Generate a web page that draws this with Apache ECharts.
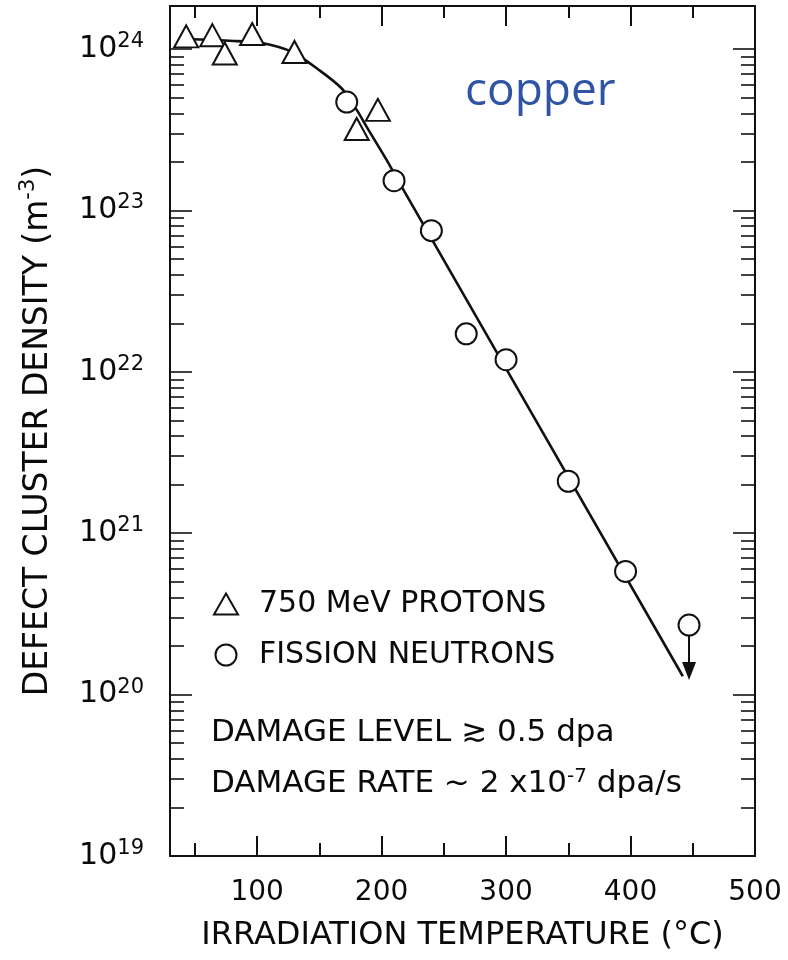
<!DOCTYPE html>
<html>
<head>
<meta charset="utf-8">
<script src="https://cdn.jsdelivr.net/npm/echarts@6/dist/echarts.min.js"></script>
<style>
html,body{margin:0;padding:0;background:#fff;}
#c{width:788px;height:960px;}
</style>
</head>
<body>
<div id="c"></div>
<script>
// ---- data ----
const protonTemp = [43, 64, 74, 96, 130, 180, 197];
const protonDensity = [1.20e24, 1.22e24, 9.4e23, 1.24e24, 9.6e23, 3.2e23, 4.2e23];
const neutronTemp = [172, 210, 240, 268, 300, 350, 396, 447];
const neutronDensity = [4.7e23, 1.53e23, 7.5e22, 1.72e22, 1.19e22, 2.1e21, 5.8e20, 2.7e20];
const fitTemp = [48, 84, 104, 128, 150, 168, 180, 188, 204, 214, 442];
const fitDensity = [1.15e24, 1.12e24, 1.09e24, 9.6e23, 7.4e23, 5.7e23, 4.2e23, 3.3e23, 2.06e23, 1.50e23, 1.30e20];
const limitTemp = 447;
const limitFrom = 2.35e20;
const limitTo = 1.40e20;

// ---- axes / ticks ----
const xMin = 30, xMax = 500;
const xMajorTicks = [100, 200, 300, 400];
const xMinorTicks = [50, 150, 250, 350, 450];
const xTickLabels = [100, 200, 300, 400, 500];
const yMin = 1e19, yMax = 1.85e24;
const yExponents = [19, 20, 21, 22, 23, 24];
const yMinorMultipliers = [2, 3, 4, 5, 6, 7, 8, 9];

const yMajorValues = yExponents.map(e => Math.pow(10, e));
const yMinorValues = [];
yExponents.forEach(e => yMinorMultipliers.forEach(m => {
  const v = m * Math.pow(10, e);
  if (v < yMax) yMinorValues.push(v);
}));

const AX = '#111';
const FONT = 'DejaVu Sans';
const TXT = '#0a0a0a';

const zip = (a, b) => a.map((v, i) => [v, b[i]]);

function xAx(pos, ticks, len, showLine, extra) {
  return Object.assign({
    type: 'value', position: pos, min: xMin, max: xMax,
    axisLine: {show: showLine, onZero: false, lineStyle: {color: AX, width: 2}},
    axisTick: {show: true, inside: true, length: len, customValues: ticks, lineStyle: {color: AX, width: 2}},
    axisLabel: {show: false},
    splitLine: {show: false}
  }, extra || {});
}
function yAx(pos, ticks, len, showLine, extra) {
  return Object.assign({
    type: 'log', logBase: 10, position: pos, min: yMin, max: yMax,
    axisLine: {show: showLine, onZero: false, lineStyle: {color: AX, width: 2}},
    axisTick: {show: true, inside: true, length: len, customValues: ticks, lineStyle: {color: AX, width: 1.6}},
    axisLabel: {show: false},
    splitLine: {show: false},
    minorTick: {show: false}
  }, extra || {});
}

const chart = echarts.init(document.getElementById('c'), null, {renderer: 'canvas'});
chart.setOption({
  animation: false,
  backgroundColor: '#fff',
  grid: {left: 170, right: 33, top: 6, bottom: 104, containLabel: false, outerBoundsMode: 'none'},
  xAxis: [
    xAx('bottom', xMajorTicks, 20, true, {
      axisLabel: {show: true, customValues: xTickLabels, margin: 23, fontFamily: FONT, fontSize: 28, color: TXT},
      name: 'IRRADIATION TEMPERATURE (°C)', nameLocation: 'middle', nameGap: 64,
      nameTextStyle: {fontFamily: FONT, fontSize: 32, color: TXT}
    }),
    xAx('bottom', xMinorTicks, 13, false),
    xAx('top', xMajorTicks, 20, true),
    xAx('top', xMinorTicks, 12, false)
  ],
  yAxis: [
    yAx('left', yMajorValues, 22, true, {
      axisLabel: {
        show: true, customValues: yMajorValues, margin: 26,
        formatter: v => '{b|10}{s|' + Math.round(Math.log10(v)) + '}',
        rich: {
          b: {fontFamily: FONT, fontSize: 30, color: TXT, lineHeight: 36},
          s: {fontFamily: FONT, fontSize: 21, color: TXT, lineHeight: 21, verticalAlign: 'top'}
        }
      },
      name: '{n|DEFECT CLUSTER DENSITY (m}{s|-3}{n|)}',
      nameLocation: 'middle', nameRotate: 90, nameGap: 112,
      nameTextStyle: {
        rich: {
          n: {fontFamily: FONT, fontSize: 33, color: TXT, lineHeight: 40},
          s: {fontFamily: FONT, fontSize: 21, color: TXT, lineHeight: 22, verticalAlign: 'top'}
        }
      }
    }),
    yAx('left', yMinorValues, 14, false),
    yAx('right', yMajorValues, 22, true),
    yAx('right', yMinorValues, 14, false)
  ],
  legend: {
    orient: 'vertical', left: 208, top: 584,
    itemWidth: 24, itemHeight: 21, itemGap: 21,
    data: ['750 MeV PROTONS', 'FISSION NEUTRONS'],
    textStyle: {fontFamily: FONT, fontSize: 30, color: TXT, lineHeight: 30, padding: [0, 0, 0, 16]},
    selectedMode: false
  },
  series: [
    {
      name: 'fit', type: 'line', xAxisIndex: 0, yAxisIndex: 0,
      data: zip(fitTemp, fitDensity), smooth: 0.3, showSymbol: false, symbol: 'none',
      lineStyle: {color: '#111', width: 2.6}, z: 2, silent: true
    },
    {
      name: '750 MeV PROTONS', type: 'scatter', xAxisIndex: 0, yAxisIndex: 0,
      data: zip(protonTemp, protonDensity), symbol: 'triangle', symbolSize: [24, 22],
      itemStyle: {color: '#fff', borderColor: '#111', borderWidth: 2, opacity: 1}, z: 5
    },
    {
      name: 'FISSION NEUTRONS', type: 'scatter', xAxisIndex: 0, yAxisIndex: 0,
      data: zip(neutronTemp, neutronDensity), symbol: 'circle', symbolSize: 21,
      itemStyle: {color: '#fff', borderColor: '#111', borderWidth: 2, opacity: 1}, z: 5,
      markLine: {
        silent: true, animation: false,
        symbol: ['none', 'triangle'], symbolSize: [14, 18],
        lineStyle: {color: '#111', width: 2, type: 'solid'},
        label: {show: false},
        emphasis: {disabled: true},
        data: [[{coord: [limitTemp, limitFrom]}, {coord: [limitTemp, limitTo]}]]
      }
    }
  ],
  graphic: [
    {type: 'text', x: 465, y: 92, silent: true,
     style: {text: 'copper', fontFamily: 'Open Sans', fontSize: 46, fill: '#2f54a5',
             align: 'left', verticalAlign: 'middle', textAlign: 'left', textVerticalAlign: 'middle'}},
    {type: 'text', x: 211, y: 733, silent: true,
     style: {text: 'DAMAGE LEVEL ≳ 0.5 dpa', fontFamily: FONT, fontSize: 31, fill: TXT,
             align: 'left', verticalAlign: 'middle', textAlign: 'left', textVerticalAlign: 'middle'}},
    {type: 'text', x: 211, y: 784, silent: true,
     style: {text: '{n|DAMAGE RATE ~ 2 x10}{s|-7}{n| dpa/s}',
             rich: {
               n: {fontFamily: FONT, fontSize: 31, fill: TXT, color: TXT, lineHeight: 34},
               s: {fontFamily: FONT, fontSize: 20, fill: TXT, color: TXT, lineHeight: 20, verticalAlign: 'top'}
             },
             align: 'left', verticalAlign: 'middle', textAlign: 'left', textVerticalAlign: 'middle'}}
  ]
});
</script>
</body>
</html>
